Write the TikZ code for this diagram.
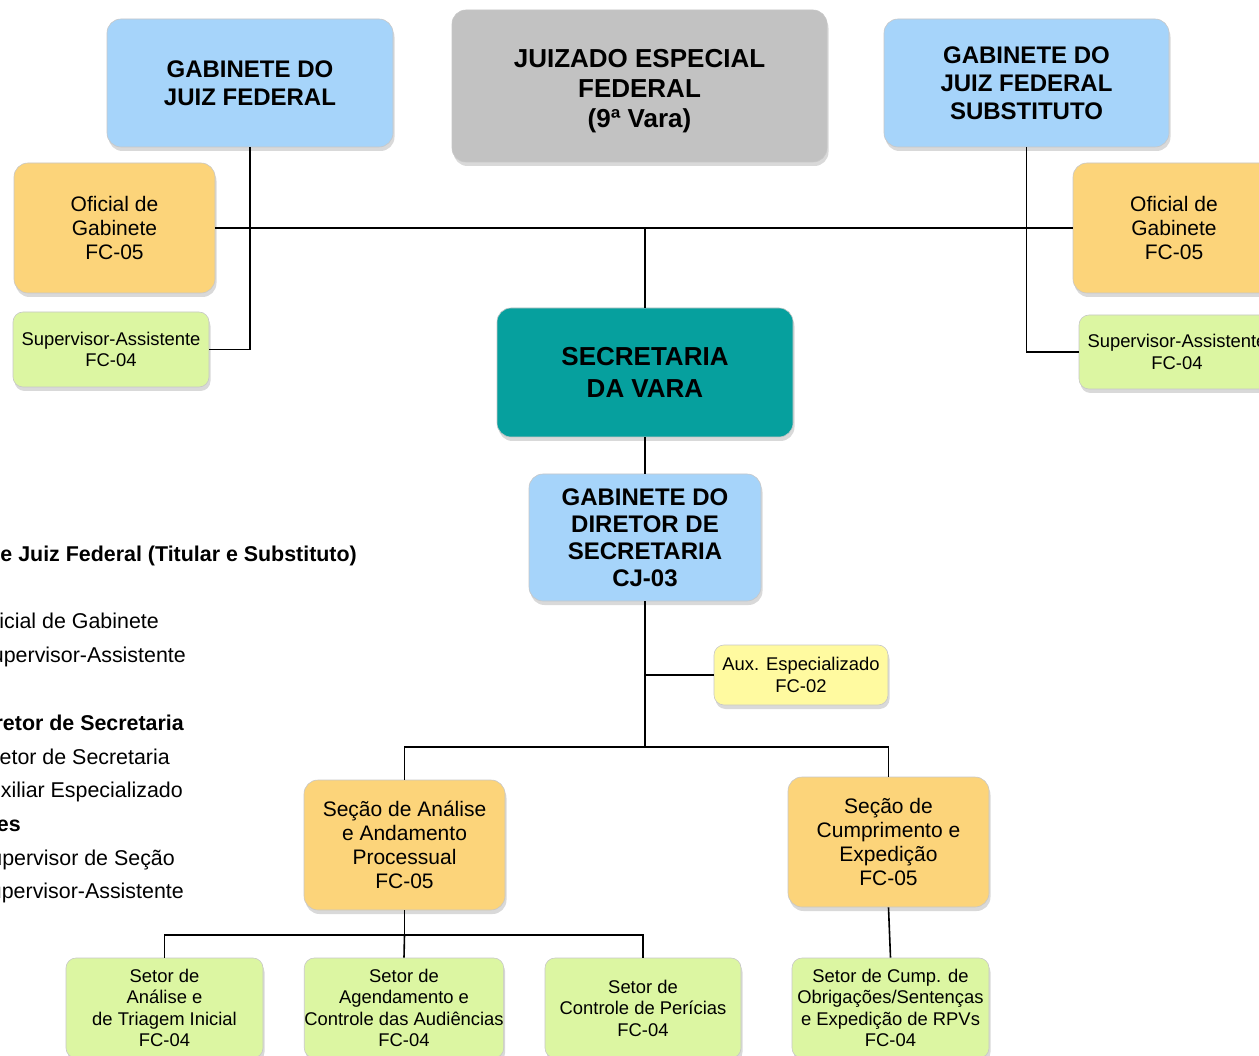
\documentclass[tikz,border=0pt]{standalone}
\usepackage{fontspec}
\setmainfont{Liberation Sans}
\usetikzlibrary{shadows,calc}
\definecolor{gabblue}{RGB}{166,212,250}
\definecolor{courtgray}{RGB}{194,194,194}
\definecolor{secteal}{RGB}{6,160,158}
\definecolor{fcorange}{RGB}{252,212,122}
\definecolor{fcgreen}{RGB}{220,246,162}
\definecolor{auxyellow}{RGB}{255,250,160}
\tikzset{
  unit/.style = { rectangle, rounded corners=14pt, align=center, inner sep=0pt,
    draw=black!22, line width=0.6pt,
    drop shadow={shadow xshift=1.5pt, shadow yshift=-4pt, opacity=0.3} },
  chief/.style  = { unit, fill=gabblue, font=\bfseries\fontsize{24}{28}\selectfont },
  court/.style  = { unit, fill=courtgray, font=\bfseries\fontsize{26}{30}\selectfont },
  secvara/.style = { unit, fill=secteal, font=\bfseries\fontsize{26}{32}\selectfont },
  office/.style = { unit, fill=fcorange, font=\fontsize{21}{24}\selectfont },
  setor/.style  = { unit, rounded corners=10pt, fill=fcgreen, font=\fontsize{18.4}{21.5}\selectfont },
  auxbox/.style = { setor, fill=auxyellow },
  link/.style   = { draw, line width=1.6pt },
  legtxt/.style = { anchor=base east, inner sep=0pt, font=\fontsize{21.4}{24}\selectfont },
  legbold/.style = { legtxt, font=\bfseries\fontsize{21.4}{24}\selectfont }
}
\begin{document}
\begin{tikzpicture}[x=1pt,y=-1pt]
  \useasboundingbox (0,0) rectangle (1259,1056);
  \clip (0,0) rectangle (1259,1056);
  % top row
  \node[chief, minimum width=286, minimum height=128] (gabjuiz) at (250,83) {GABINETE DO\\JUIZ FEDERAL};
  \node[court, minimum width=375, minimum height=152] (juizado) at (639.5,86) {\rule{0pt}{28.6pt}JUIZADO ESPECIAL\\FEDERAL\\(9ª Vara)};
  \node[chief, minimum width=285, minimum height=128] (gabsubst) at (1026.5,83) {GABINETE DO\\JUIZ FEDERAL\\SUBSTITUTO};
  % gabinetes
  \node[office, minimum width=201, minimum height=130] (ofic1) at (114.5,228) {Oficial de\\Gabinete\\FC-05};
  \node[setor, minimum width=196, minimum height=75] (sup1) at (111,349.5) {Supervisor-Assistente\\FC-04};
  \node[office, minimum width=202, minimum height=130] (ofic2) at (1174,228) {Oficial de\\Gabinete\\FC-05};
  \node[setor, minimum width=196, minimum height=74] (sup2) at (1177,352) {Supervisor-Assistente\\FC-04};
  % secretaria
  \node[secvara, minimum width=296, minimum height=129] (secret) at (645,372.5) {SECRETARIA\\DA VARA};
  \node[chief, font=\bfseries\fontsize{24}{27}\selectfont, minimum width=232, minimum height=127] (diretor) at (645,537.5) {GABINETE DO\\DIRETOR DE\\SECRETARIA\\CJ-03};
  \node[auxbox, minimum width=174, minimum height=60] (aux) at (801,675) {Aux. Especializado\\FC-02};
  \node[office, minimum width=201, minimum height=130] (secanal) at (404.5,845) {Seção de Análise\\e Andamento\\Processual\\FC-05};
  \node[office, minimum width=201, minimum height=130] (seccump) at (888.5,842) {Seção de\\Cumprimento e\\Expedição\\FC-05};
  % setores
  \node[setor, minimum width=197, minimum height=100] (setanal) at (164.5,1008) {Setor de\\Análise e\\de Triagem Inicial\\FC-04};
  \node[setor, minimum width=196, minimum height=100] (setagend) at (404,1008) {Setor de\\Agendamento e\\Controle das Audiências\\FC-04};
  \node[setor, minimum width=196, minimum height=100] (setperic) at (643,1008) {Setor de\\Controle de Perícias\\FC-04};
  \node[setor, minimum width=197, minimum height=100] (setcump) at (890.5,1008) {Setor de Cump. de\\Obrigações/Sentenças\\e Expedição de RPVs\\FC-04};
  \coordinate (split) at (645,747);
  \coordinate (split2) at (404.5,935);
  % connectors
  \path[link] (gabjuiz.south) |- (sup1.east);
  \path[link] (gabsubst.south) |- (sup2.west);
  \path[link] (ofic1.east) -- (ofic2.west);
  \path[link] (secret.north) -- (secret.north |- ofic1.east);
  \path[link] (secret.south) -- (diretor.north);
  \path[link] (diretor.south) -- (split);
  \path[link] (aux.west) -- (aux.west -| diretor.south);
  \path[link] (secanal.north) |- (split) -| (seccump.north);
  \path[link] (secanal.south) -- (split2);
  \path[link] (setanal.north) |- (split2) -| (setperic.north);
  \path[link] (split2) -- (setagend.north);
  \path[link] (seccump.south) -- (setcump.north);
  % legenda
  \node[legbold] (leg1) at (357,561) {e Juiz Federal (Titular e Substituto)};
  \node[legtxt] (leg2) at (159,628) {icial de Gabinete};
  \node[legtxt] (leg3) at (186,662) {upervisor-Assistente};
  \node[legbold] (leg4) at (184,730) {retor de Secretaria};
  \node[legtxt] (leg5) at (170,764) {etor de Secretaria};
  \node[legtxt] (leg6) at (183,797) {xiliar Especializado};
  \node[legbold] (leg7) at (21,831) {es};
  \node[legtxt] (leg8) at (175,865) {upervisor de Seção};
  \node[legtxt] (leg9) at (184,898) {upervisor-Assistente};
\end{tikzpicture}
\end{document}
